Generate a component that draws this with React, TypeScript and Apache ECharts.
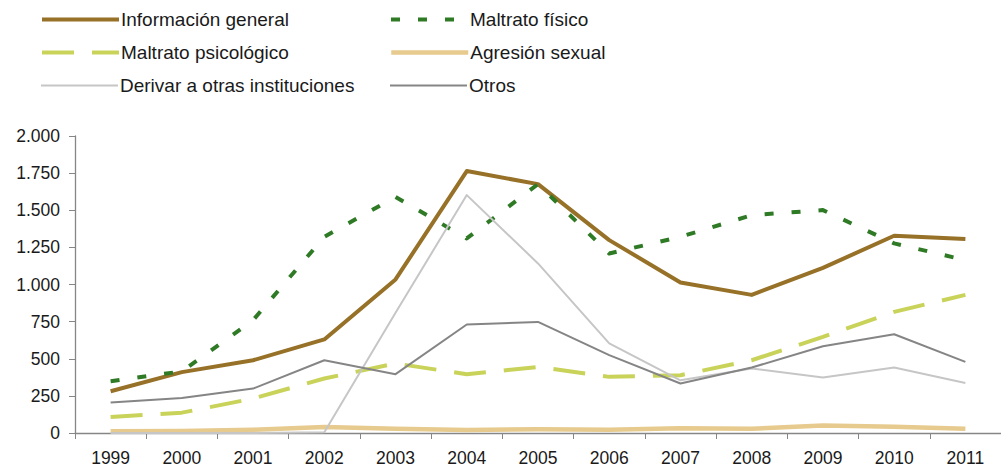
import React, { useEffect, useRef } from "react";
import * as echarts from "echarts";

const years = ["1999", "2000", "2001", "2002", "2003", "2004", "2005", "2006", "2007", "2008", "2009", "2010", "2011"];
const infoGeneral = [281, 410, 490, 630, 1034, 1764, 1676, 1299, 1014, 930, 1112, 1328, 1306];
const maltratoFisico = [348, 415, 760, 1321, 1590, 1310, 1676, 1209, 1321, 1467, 1501, 1277, 1164];
const maltratoPsicologico = [108, 137, 232, 367, 468, 396, 445, 378, 389, 490, 647, 816, 930];
const agresionSexual = [12, 14, 22, 40, 28, 20, 25, 22, 32, 28, 50, 42, 28];
const derivar = [0, 0, 0, 5, 810, 1602, 1142, 603, 355, 434, 373, 441, 337];
const otros = [205, 236, 299, 490, 396, 731, 748, 524, 333, 441, 584, 665, 479];

const names = [
  "Información general",
  "Maltrato físico",
  "Maltrato psicológico",
  "Agresión sexual",
  "Derivar a otras instituciones",
  "Otros",
];
const yTicks = [0, 250, 500, 750, 1000, 1250, 1500, 1750, 2000];

const FONT = "Liberation Sans, Arial, sans-serif";

function fmt(v: number): string {
  return String(v).replace(/\B(?=(\d{3})+(?!\d))/g, ".");
}

export default function App() {
  const ref = useRef<HTMLDivElement>(null);
  useEffect(() => {
    if (!ref.current) return;
    const chart = echarts.init(ref.current, null, { renderer: "svg" });
    const legendPos = [
      { left: 40, top: 10 },
      { left: 389, top: 10 },
      { left: 40, top: 43 },
      { left: 389, top: 43 },
      { left: 40, top: 76 },
      { left: 389, top: 76 },
    ];
    const mk = (name: string, data: number[], color: string, width: number, type: any) => ({
      type: "line",
      name,
      data,
      symbol: "none",
      showSymbol: false,
      lineStyle: { color, width, type, cap: "butt", join: "round" },
      itemStyle: { color },
    });
    chart.setOption({
      animation: false,
      backgroundColor: "#ffffff",
      textStyle: { fontFamily: FONT },
      legend: names.map((n, i) => ({
        data: [n],
        left: legendPos[i].left,
        top: legendPos[i].top,
        padding: 0,
        orient: "horizontal",
        itemWidth: 77,
        itemHeight: 14,
        selectedMode: false,
        itemStyle: { opacity: 0 },
        lineStyle: { width: "inherit", type: "inherit" },
        textStyle: { fontSize: 19, color: "#1a1a1a", fontFamily: FONT, padding: [0, 0, 0, -3] },
      })),
      grid: { left: 75, top: 136, width: 936, height: 297, containLabel: false },
      xAxis: {
        type: "category",
        data: years,
        boundaryGap: true,
        axisLine: { lineStyle: { color: "#868686", width: 1.3 } },
        axisTick: { show: true, length: 6, inside: false, lineStyle: { color: "#868686" } },
        axisLabel: { fontSize: 17.5, color: "#1a1a1a", margin: 16, fontFamily: FONT },
        splitLine: { show: false },
      },
      yAxis: {
        type: "value",
        min: yTicks[0],
        max: yTicks[yTicks.length - 1],
        interval: 250,
        axisLine: { show: true, lineStyle: { color: "#868686", width: 1.3 } },
        axisTick: { show: true, length: 6, lineStyle: { color: "#868686" } },
        axisLabel: { fontSize: 17.5, color: "#1a1a1a", margin: 15, fontFamily: FONT, formatter: (v: number) => fmt(v) },
        splitLine: { show: false },
      },
      series: [
        mk(names[0], infoGeneral, "#967127", 4, "solid"),
        mk(names[1], maltratoFisico, "#2f7a25", 4, [9, 18]),
        mk(names[2], maltratoPsicologico, "#c9d35a", 4, [32, 18]),
        mk(names[3], agresionSexual, "#e6ca8e", 4.5, "solid"),
        mk(names[4], derivar, "#c6c6c6", 2, "solid"),
        mk(names[5], otros, "#858585", 2, "solid"),
      ],
    });
    return () => chart.dispose();
  }, []);
  return (
    <div
      ref={ref}
      style={{ position: "fixed", left: 0, top: 0, width: 1001, height: 469, background: "#fff" }}
    />
  );
}
